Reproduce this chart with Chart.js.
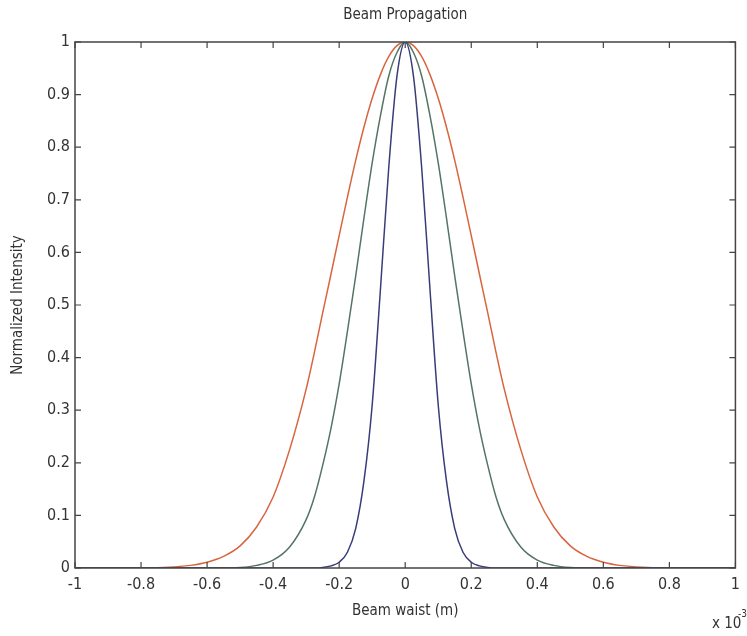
<!DOCTYPE html>
<html>
<head>
<meta charset="utf-8">
<script src="https://cdn.jsdelivr.net/npm/chart.js@4.4.1/dist/chart.umd.min.js"></script>
<style>
  html, body { margin: 0; padding: 0; background: #fff; }
  #wrap { width: 747px; height: 636px; position: relative; }
</style>
</head>
<body>
<div id="wrap"><canvas id="beamChart"></canvas></div>
<script>
// beam waist positions (x 10^-3 m)
const waist = [-1, -0.9, -0.8, -0.7, -0.65, -0.6, -0.55, -0.5, -0.45, -0.4, -0.35,
    -0.3, -0.275, -0.25, -0.225, -0.2, -0.175, -0.15, -0.125, -0.1, -0.075, -0.05, -0.025,
    0,
    0.025, 0.05, 0.075, 0.1, 0.125, 0.15, 0.175, 0.2, 0.225, 0.25, 0.275, 0.3,
    0.35, 0.4, 0.45, 0.5, 0.55, 0.6, 0.65, 0.7, 0.8, 0.9, 1];

// normalized intensity
const wideBeam = [0, 0, 0, 0.002, 0.005, 0.011, 0.022, 0.042, 0.078, 0.135, 0.225,
    0.34, 0.41, 0.485, 0.558, 0.632, 0.705, 0.775, 0.838, 0.893, 0.938, 0.972, 0.993,
    1,
    0.993, 0.972, 0.938, 0.893, 0.838, 0.775, 0.705, 0.632, 0.558, 0.485, 0.41, 0.34,
    0.225, 0.135, 0.078, 0.042, 0.022, 0.011, 0.005, 0.002, 0, 0, 0];

const midBeam = [0, 0, 0, 0, 0, 0, 0, 0.001, 0.005, 0.015, 0.04,
    0.092, 0.135, 0.195, 0.265, 0.35, 0.45, 0.555, 0.665, 0.77, 0.86, 0.935, 0.98,
    1,
    0.98, 0.935, 0.86, 0.77, 0.665, 0.555, 0.45, 0.35, 0.265, 0.195, 0.135, 0.092,
    0.04, 0.015, 0.005, 0.001, 0, 0, 0, 0, 0, 0, 0];

const narrowBeam = [0, 0, 0, 0, 0, 0, 0, 0, 0, 0, 0,
    0, 0, 0.001, 0.004, 0.011, 0.03, 0.075, 0.165, 0.31, 0.53, 0.76, 0.935,
    1,
    0.935, 0.76, 0.53, 0.31, 0.165, 0.075, 0.03, 0.011, 0.004, 0.001, 0, 0,
    0, 0, 0, 0, 0, 0, 0, 0, 0, 0, 0];

const xTicks = [-1, -0.8, -0.6, -0.4, -0.2, 0, 0.2, 0.4, 0.6, 0.8, 1];
const yTicks = [0, 0.1, 0.2, 0.3, 0.4, 0.5, 0.6, 0.7, 0.8, 0.9, 1];

const FONT = '"Liberation Sans Narrow", "DejaVu Sans Condensed", "Liberation Sans", Arial, sans-serif';
const INK = '#333';

function pts(ys) { return waist.map((x, i) => ({ x: x, y: ys[i] })); }

// MATLAB style box: frame with inward ticks on all four sides, plus title and exponent
const matlabBox = {
    id: 'matlabBox',
    afterDraw(chart) {
        const { ctx, chartArea: a, scales: { x, y } } = chart;
        ctx.save();
        ctx.strokeStyle = '#444';
        ctx.lineWidth = 1.5;
        ctx.strokeRect(a.left, a.top, a.right - a.left, a.bottom - a.top);
        ctx.lineWidth = 1.2;
        ctx.beginPath();
        xTicks.forEach(v => {
            const px = x.getPixelForValue(v);
            ctx.moveTo(px, a.bottom); ctx.lineTo(px, a.bottom - 6);
            ctx.moveTo(px, a.top); ctx.lineTo(px, a.top + 6);
        });
        yTicks.forEach(v => {
            const py = y.getPixelForValue(v);
            ctx.moveTo(a.left, py); ctx.lineTo(a.left + 6, py);
            ctx.moveTo(a.right, py); ctx.lineTo(a.right - 6, py);
        });
        ctx.stroke();

        ctx.fillStyle = INK;
        ctx.textAlign = 'center';
        ctx.textBaseline = 'middle';
        ctx.font = '15px ' + FONT;
        ctx.fillText('Beam Propagation', (a.left + a.right) / 2, 15);

        ctx.textAlign = 'left';
        ctx.font = '15px ' + FONT;
        ctx.fillText('x 10', 712, 624);
        ctx.font = '10px ' + FONT;
        ctx.fillText('-3', 738, 614);
        ctx.restore();
    }
};

new Chart(document.getElementById('beamChart'), {
    type: 'line',
    data: {
        datasets: [
            { label: 'narrow', data: pts(narrowBeam), borderColor: '#383c78' },
            { label: 'mid', data: pts(midBeam), borderColor: '#557564' },
            { label: 'wide', data: pts(wideBeam), borderColor: '#d9653f' }
        ]
    },
    options: {
        responsive: true,
        maintainAspectRatio: false,
        animation: false,
        layout: { padding: { top: 42, right: 2, left: 0, bottom: 0 } },
        elements: {
            point: { radius: 0 },
            line: { borderWidth: 1.5, cubicInterpolationMode: 'monotone', fill: false }
        },
        plugins: { legend: { display: false }, tooltip: { enabled: false } },
        scales: {
            x: {
                type: 'linear', min: -1, max: 1,
                afterFit: s => { s.height = 68; },
                afterBuildTicks: s => { s.ticks = xTicks.map(v => ({ value: v })); },
                grid: { display: false, drawTicks: false },
                border: { display: false },
                ticks: {
                    color: INK, padding: 7, maxRotation: 0,
                    font: { family: FONT, size: 16 },
                    callback: v => String(Math.round(v * 10) / 10)
                },
                title: {
                    display: true, text: 'Beam waist (m)', color: INK,
                    font: { family: FONT, size: 15 }, padding: { top: 0, bottom: 16 }
                }
            },
            y: {
                min: 0, max: 1,
                afterFit: s => { s.width = 75; },
                afterBuildTicks: s => { s.ticks = yTicks.map(v => ({ value: v })); },
                grid: { display: false, drawTicks: false },
                border: { display: false },
                ticks: {
                    color: INK, padding: 5,
                    font: { family: FONT, size: 16 },
                    callback: v => String(Math.round(v * 10) / 10)
                },
                title: {
                    display: true, text: 'Normalized Intensity', color: INK,
                    font: { family: FONT, size: 15 }, padding: { top: 9, bottom: 0 }
                }
            }
        }
    },
    plugins: [matlabBox]
});
</script>
</body>
</html>
